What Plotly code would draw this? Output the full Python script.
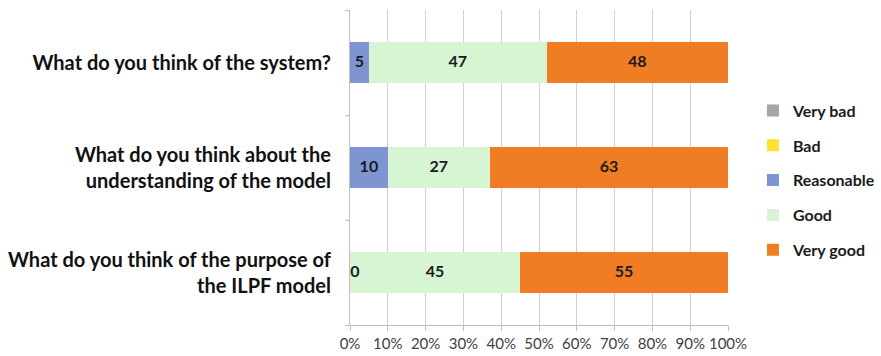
import plotly.graph_objects as go

questions = [
    "What do you think of the system?",
    "What do you think about the<br>understanding of the model",
    "What do you think of the purpose of<br>the ILPF model",
]
series_names = ["Very bad", "Bad", "Reasonable", "Good", "Very good"]
very_bad = [0, 0, 0]
bad = [0, 0, 0]
reasonable = [5, 10, 0]
good = [47, 27, 45]
very_good = [48, 63, 55]
tick_vals = [0, 10, 20, 30, 40, 50, 60, 70, 80, 90, 100]
tick_text = ["0%", "10%", "20%", "30%", "40%", "50%", "60%", "70%", "80%", "90%", "100%"]

colors = ["#a6a6a6", "#ffe033", "#7f95d2", "#d8f5d3", "#f07d23"]
values = [very_bad, bad, reasonable, good, very_good]
labelled = [False, False, True, True, True]

FONT = "Lato"
fig = go.Figure()
base = [0, 0, 0]
for name, vals, col, lab in zip(series_names, values, colors, labelled):
    fig.add_trace(go.Bar(
        y=questions, x=vals, name=name, orientation="h",
        marker=dict(color=col, line=dict(width=0)),
        legendgroup=name,
    ))
    if lab:
        mids = [b + v / 2 for b, v in zip(base, vals)]
        mids = [m if v > 0 else m + 1.3 for m, v in zip(mids, vals)]
        fig.add_trace(go.Scatter(
            y=questions, x=mids, mode="text", text=[str(v) for v in vals],
            textfont=dict(family=FONT, size=16, color="#1a1a1a", weight="bold"),
            showlegend=False, hoverinfo="skip",
        ))
    base = [b + v for b, v in zip(base, vals)]

fig.update_layout(
    barmode="stack",
    bargap=0.61,
    width=881, height=356,
    margin=dict(l=350, r=153, t=10, b=31, autoexpand=False),
    plot_bgcolor="white", paper_bgcolor="white",
    font=dict(family=FONT),
    legend=dict(
        x=1.066, y=0.46, xanchor="left", yanchor="middle",
        traceorder="reversed+grouped", tracegroupgap=11,
        font=dict(family=FONT, size=16, color="#1a1a1a", weight="bold"),
        itemwidth=30,
    ),
    showlegend=True,
)
fig.update_xaxes(
    range=[0, 100], tickvals=tick_vals, ticktext=tick_text,
    showgrid=True, gridcolor="#d0d0d0", gridwidth=1,
    showline=True, linecolor="#bfbfbf", linewidth=1,
    ticks="outside", ticklen=5, tickcolor="#bfbfbf",
    tickfont=dict(family=FONT, size=15, color="#404040"),
    zeroline=False, fixedrange=True,
)
fig.update_yaxes(
    categoryorder="array", categoryarray=questions[::-1],
    showline=True, linecolor="#bfbfbf", linewidth=1,
    ticks="outside", ticklen=4, tickcolor="#bfbfbf", tickson="boundaries",
    tickfont=dict(family=FONT, size=20, color="#111111", weight="bold"),
    ticklabelstandoff=14,
    showgrid=False,
)
fig.write_html("out.html")
